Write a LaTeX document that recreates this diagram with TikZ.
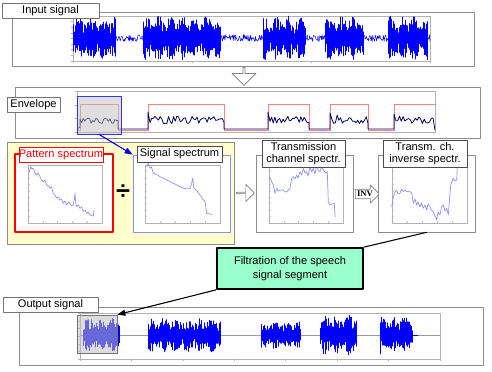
\documentclass[tikz,border=0pt]{standalone}
\usepackage{fontspec}
\setmainfont{Liberation Sans}
\newfontfamily\invfont{Liberation Serif}
\usetikzlibrary{fit,shapes.arrows,arrows.meta}

\definecolor{panelyellow}{RGB}{255,255,204}
\definecolor{filtgreen}{RGB}{153,255,204}
\definecolor{sigblue}{RGB}{140,140,255}

\newlength\px
\setlength\px{0.75pt}

% one burst of speech: x0, x1, centre, amplitude, phase
\newcommand\speechburst[5]{%
  \pgfmathtruncatemacro\nlines{(#2-#1)/0.6}
  \foreach \k in {0,...,\nlines}{
    \pgfmathsetmacro\xx{#1+0.6*\k}
    \pgfmathsetmacro\env{0.6+0.4*abs(sin(9*\k+#5))}
    \pgfmathsetmacro\ha{#4*\env*(0.3+0.7*rnd)}
    \pgfmathsetmacro\hb{#4*\env*(0.3+0.7*rnd)}
    \draw[wave] (\xx,#3-\ha) -- (\xx,#3+\hb);
  }}

% small axes of a spectrum plot: x0, y0, x1, y1
\newcommand\specaxes[4]{%
  \draw[plotbox] (#1,#2) rectangle (#3,#4);
  \foreach \t in {0,...,9}{\draw[plotbox] (#1,{#2+\t*(#4-#2)/9}) -- ++(1.5,0);}
  \foreach \t in {0,...,5}{\draw[plotbox] ({#1+\t*(#3-#1)/5},#4) -- ++(0,-1.5);}
}

\begin{document}
\begin{tikzpicture}[x=0.75pt, y=-0.75pt, line cap=round, line join=round]

% --- Styles ---
\tikzset{
    frame/.style={draw=black!45, line width=0.5pt, inner sep=0pt},
    tag/.style={
        draw=black!55,
        fill=white,
        line width=0.5pt,
        inner sep=0pt,
        align=center,
        font=\fontsize{8.3}{9.2}\selectfont
    },
    plotbox/.style={draw=black!30, line width=0.3pt},
    wave/.style={draw=blue, line width=0.35pt},
    spectrum/.style={draw=sigblue, line width=0.5pt},
    envline/.style={draw=blue!40!black, line width=0.6pt},
    segline/.style={draw=red!50, line width=0.4pt},
    hollow/.style={
        single arrow,
        draw=black!50,
        fill=white,
        line width=0.5pt,
        inner sep=0pt
    },
    pointer/.style={-{Triangle[length=6pt,width=4.5pt]}, line width=0.8pt}
}

\useasboundingbox (0,0) rectangle (492,371);
\pgfmathsetseed{31}

% =========================================================================
% --- Input signal ---
% =========================================================================
\node[frame, fit={(12,12) (474,66)}] (inframe) {};
\draw[plotbox] (73,16) rectangle (430,61);
\foreach \t in {0,...,8}{\draw[plotbox] (73,16+\t*5.6) -- ++(-2,0);}
\foreach \t in {0,...,3}{\draw[plotbox] (73+\t*119,61) -- ++(0,2);}

\draw[wave] plot[domain=73:430, samples=600] (\x, {38+7*(rnd-0.5)});
\speechburst{73}{115}{38}{22}{0}
\speechburst{143}{220}{38}{22}{40}
\speechburst{263}{305}{38}{22}{70}
\speechburst{325}{363}{38}{22}{20}
\speechburst{388}{427}{38}{22}{55}

\node[tag, minimum width=97\px, minimum height=15\px] (intag) at (50.5,10.5) {Input signal};

% --- down arrow to the envelope ---
\node[hollow, shape border rotate=270, minimum height=18\px, minimum width=24\px,
      single arrow head extend=4\px] (downarrow) at (244,76) {};

% =========================================================================
% --- Envelope ---
% =========================================================================
\node[frame, fit={(15,87) (480,138)}] (envframe) {};
\draw[plotbox] (77,91) rectangle (435,132);
\foreach \t in {0,...,3}{\draw[plotbox] (77,91+\t*13.7) -- ++(-2,0);}

\draw[segline] (77,130) -- (80,130) -- (80,104) -- (118,104) -- (118,130)
    -- (148,130) -- (148,104) -- (224,104) -- (224,130)
    -- (268,130) -- (268,104) -- (309,104) -- (309,130)
    -- (330,130) -- (330,104) -- (368,104) -- (368,130)
    -- (394,130) -- (394,104) -- (435,104);

\draw[envline] (77,129) -- (80,127)
    -- plot[domain=80:118, samples=25] (\x, {118+6*rnd})
    -- (118,129) -- (148,129) -- (148,112)
    -- plot[domain=150:224, samples=45] (\x, {116+8*rnd})
    -- (224,129) -- (268,129) -- (268,112)
    -- plot[domain=270:309, samples=25] (\x, {116+8*rnd})
    -- (309,129) -- (330,129) -- (330,113)
    -- plot[domain=332:368, samples=22] (\x, {115+9*rnd})
    -- (368,129) -- (394,129) -- (394,114)
    -- plot[domain=396:433, samples=22] (\x, {116+8*rnd})
    -- (435,130);

\node[frame, draw=blue!80, fill=black!25, fill opacity=0.5, fit={(77,96) (121,134)}] (selenv) {};
\node[tag, minimum width=53\px, minimum height=15\px] (envtag) at (33.5,104.5) {Envelope};

% =========================================================================
% --- Spectra ---
% =========================================================================
\node[frame, fill=panelyellow, fit={(7,142) (234,244)}] (panel) {};

% pattern spectrum
\node[frame, draw=red, line width=0.9pt, fill=white, fit={(15,154) (113,232)}] (patbox) {};
\specaxes{28}{165}{102}{223}
\draw[spectrum] (29.3,171.7) -- (30.7,166.7) -- (32,169) -- (33.3,168.3) -- (35,173)
    -- (36.7,175) -- (38,173) -- (40,176.7) -- (41.5,180) -- (43.3,181.7) -- (45,180)
    -- (46.7,185) -- (48.5,186) -- (50,188.3) -- (51.5,187) -- (53.3,193.3) -- (55,195)
    -- (56.7,198.3) -- (58.3,197) -- (60,200) -- (61.5,199) -- (63.3,203.3) -- (65,201)
    -- (66.7,205) -- (68.3,202) -- (70,203.3) -- (71.7,206) -- (73.3,205) -- (74.5,198)
    -- (75,193.3) -- (75.8,203) -- (76.7,206.7) -- (78.3,205) -- (80,208.3) -- (81.7,207)
    -- (83.3,211.7) -- (85,210) -- (86.7,213.3) -- (88.3,212) -- (90,215) -- (93.3,216)
    -- (94,210);
\node[tag, draw=red, text=red, minimum width=84\px, minimum height=15\px] (pattag) at (61,154.5) {Pattern spectrum};

\node[font=\bfseries\fontsize{19}{19}\selectfont] (divsign) at (123,192) {÷};

% signal spectrum
\node[frame, draw=sigblue, line width=0.6pt, fill=white, fit={(133,155) (230,232)}] (sigbox) {};
\specaxes{145}{165}{220}{223}
\draw[spectrum] (146.7,166.7) -- (148.3,163.3) -- (150,168.3) -- (151.5,167) -- (153.3,173.3)
    -- (156,174) -- (160,176.7) -- (163,178) -- (166.7,180) -- (170,181.5) -- (173.3,183.3)
    -- (177,185) -- (180,186.7) -- (183,188) -- (186.7,189) -- (190,188.3) -- (191.5,184)
    -- (192.7,178.3) -- (194,188.3) -- (197,191) -- (200,195) -- (203.3,200) -- (205,201.7)
    -- (206.7,213.3) -- (211.7,214.3);
\node[tag, draw=black!70, minimum width=85\px, minimum height=16\px] (sigtag) at (179.5,154) {Signal spectrum};

% --- arrow to the channel spectrum ---
\node[hollow, minimum height=18\px, minimum width=17\px,
      single arrow head extend=3.5\px] (rightarrow) at (245,193) {};

% transmission channel spectrum
\node[frame, fill=white, fit={(256,155) (353,232)}] (transbox) {};
\specaxes{269}{165}{343}{223}
\draw[spectrum] (269.3,176.7) -- (271.7,181.7) -- (273.3,185) -- (275,193.3) -- (276.7,188.3)
    -- (278,191) -- (280,190) -- (283.3,190) -- (285,192) -- (286.7,191.7) -- (290,188.3)
    -- (291.7,178.3) -- (293.3,176.7) -- (295,179) -- (296.7,175) -- (298,178) -- (300,171.7)
    -- (301.5,175) -- (303.3,168.3) -- (305,173) -- (306.7,171.7) -- (308,176) -- (310,166.7)
    -- (311.7,172) -- (313.3,168.3) -- (315,174) -- (316.7,165) -- (318,170) -- (320,171.7)
    -- (321.5,167) -- (323.3,170) -- (326,173.3) -- (327.3,171.7) -- (328.3,201.7)
    -- (330,205) -- (334.3,203.3) -- (335,216.7);
\node[tag, draw=black!70, minimum width=83\px, minimum height=27\px] (transtag) at (303.5,153.5) {Transmission\\channel spectr.};

% --- inversion ---
\node[hollow, minimum height=24\px, minimum width=18\px, single arrow head extend=3\px,
      font=\invfont\bfseries\fontsize{6.5}{7}\selectfont] (invarrow) at (365,194) {INV};

% inverse spectrum
\node[frame, fill=white, fit={(378,155) (475,232)}] (invbox) {};
\specaxes{392}{165}{467}{223}
\draw[spectrum] (391.7,206.7) -- (393.3,196.7) -- (395,192) -- (396.7,190) -- (398,194)
    -- (400,193.3) -- (401.5,189) -- (403.3,191.7) -- (405,190) -- (406.7,191.7) -- (409,191)
    -- (411.7,193.3) -- (413.3,203.3) -- (415,199) -- (416.7,205) -- (418,202) -- (420,206.7)
    -- (421.5,203) -- (423.3,208.3) -- (425,205) -- (426.7,210) -- (428,204) -- (430,206.7)
    -- (431.5,210) -- (433.3,211.7) -- (435,216) -- (436.7,220) -- (438,212) -- (440,215)
    -- (441.5,207) -- (443.3,205) -- (445,211) -- (446.7,208.3) -- (448.3,215) -- (450.7,185)
    -- (453.3,178.3) -- (455,181) -- (456.7,180) -- (457.3,165);
\node[tag, draw=black!70, minimum width=84\px, minimum height=27\px] (invtag) at (425,153.5) {Transm. ch.\\inverse spectr.};

% =========================================================================
% --- Filtration ---
% =========================================================================
\node[draw=black, line width=1.3pt, fill=filtgreen, minimum width=146\px, minimum height=41\px,
      align=center, font=\fontsize{8.3}{10}\selectfont] (filt) at (290,268.5) {Filtration of the speech\\signal segment};

% =========================================================================
% --- Output signal ---
% =========================================================================
\node[frame, fit={(19,307) (483,365)}] (outframe) {};
\draw[plotbox] (80,313) rectangle (440,359);
\foreach \t in {0,...,6}{\draw[plotbox] (80,313+\t*7.7) -- ++(-2,0);}
\foreach \t in {0,...,7}{\draw[plotbox] (80+\t*51.4,359) -- ++(0,2);}
\draw[black!40, line width=0.3pt] (80,335) -- (440,335);

\speechburst{83}{120}{335}{17}{10}
\speechburst{148}{220}{335}{17}{35}
\speechburst{261}{300}{335}{14}{60}
\speechburst{320}{357}{335}{20}{15}
\speechburst{380}{412}{335}{19}{80}
\draw[wave] (412,335) -- (418,335);

\node[frame, draw=black!55, fill=black!25, fill opacity=0.55, fit={(77,315) (117,353)}] (outsel) {};
\node[tag, minimum width=95\px, minimum height=15\px] (outtag) at (50.5,304.5) {Output signal};

% --- connectors ---
\draw[pointer, draw=blue, fill=blue] (selenv.south) -- (sigbox.north west);
\draw[line width=0.8pt] (invbox.south) -- (filt.north east);
\draw[pointer, fill=black] (filt.south west) -- (outsel.north east);

\end{tikzpicture}
\end{document}
